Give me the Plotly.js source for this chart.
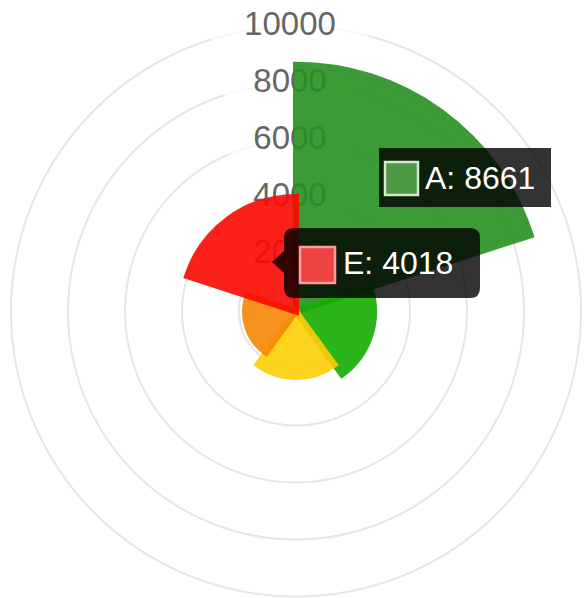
<!DOCTYPE html>
<html>
<head>
<meta charset="utf-8">
<script src="https://cdn.plot.ly/plotly-3.0.1.min.js"></script>
<style>
  html, body { margin: 0; padding: 0; background: #fff; }
  #chart { width: 585px; height: 598px; }
</style>
</head>
<body>
<div id="chart"></div>
<script>
// ---- data ----
const categories = ['A', 'B', 'C', 'D', 'E'];
const values = [8661, 2740, 2300, 1790, 4018];
const tickValues = [2000, 4000, 6000, 8000, 10000];
const tickLabels = ['2000', '4000', '6000', '8000', '10000'];
const tooltipIndices = [0, 4];

// ---- styles ----
const barColors = ['rgb(39,143,34)', 'rgb(21,173,3)', 'rgb(253,207,6)', 'rgb(246,135,5)', 'rgb(249,9,0)'];
const boxFill = ['#4c9a44', '#ee4343'];
const boxLine = ['#d3e9cd', '#ff9c9c'];

const W = 585, H = 598;
const CX = 296, CY = 311.5, R = 285;
const px = x => x / W;
const py = y => 1 - y / H;
function dom(r) {
  return { x: [px(CX - r), px(CX + r)], y: [py(CY + r), py(CY - r)] };
}
const RMAX = 10000, LABEL_RMAX = 10050;
const LABEL_DX = -6; // small pixel shift of tick labels to the left
const font = 'Liberation Sans, Arial, Helvetica, sans-serif';
const labelTheta = tickValues.map(v => Math.asin(LABEL_DX / (v * R / RMAX)) * 180 / Math.PI);

const traces = [
  {
    type: 'scatterpolar', subplot: 'polar',
    r: tickValues, theta: labelTheta,
    mode: 'markers',
    marker: { symbol: 'line-ew', size: tickLabels.map(t => t.length * 18.4 + 20),
              color: '#ffffff', line: { color: '#ffffff', width: 28 } },
    cliponaxis: false, hoverinfo: 'skip', showlegend: false
  },
  {
    type: 'scatterpolar', subplot: 'polar',
    r: tickValues, theta: labelTheta,
    mode: 'text', text: tickLabels, textposition: 'middle center',
    textfont: { size: 33, color: '#666666', family: font },
    cliponaxis: false, hoverinfo: 'skip', showlegend: false
  },
  {
    type: 'barpolar', subplot: 'polar2',
    r: values, theta: categories,
    marker: { color: barColors, opacity: 0.9, line: { color: barColors, width: 6 } },
    hoverinfo: 'skip', showlegend: false
  }
];

// ---- tooltips ----
const shapes = [];
const annotations = [];
function P(x, y) { return px(x).toFixed(5) + ',' + py(y).toFixed(5); }

const tA = { x0: 379, y0: 148, x1: 551, y1: 207, bx0: 385, by0: 162, bx1: 418, by1: 195, tx: 423, ty: 178 };
const tE = { x0: 284, y0: 228, x1: 480, y1: 298, r: 10, cx: 272, cy: 262, bx0: 300, by0: 247, bx1: 335, by1: 283, tx: 341, ty: 263 };

shapes.push({
  type: 'rect', xref: 'paper', yref: 'paper', layer: 'above',
  x0: px(tA.x0), x1: px(tA.x1), y0: py(tA.y1), y1: py(tA.y0),
  fillcolor: 'rgba(0,0,0,0.8)', line: { width: 0 }
});
{
  const { x0, y0, x1, y1, r, cx, cy } = tE;
  const path = 'M' + P(x0 + r, y0) + ' L' + P(x1 - r, y0) + ' Q' + P(x1, y0) + ' ' + P(x1, y0 + r) +
    ' L' + P(x1, y1 - r) + ' Q' + P(x1, y1) + ' ' + P(x1 - r, y1) +
    ' L' + P(x0 + r, y1) + ' Q' + P(x0, y1) + ' ' + P(x0, y1 - r) +
    ' L' + P(x0, cy + 11) + ' L' + P(cx, cy) + ' L' + P(x0, cy - 11) +
    ' L' + P(x0, y0 + r) + ' Q' + P(x0, y0) + ' ' + P(x0 + r, y0) + ' Z';
  shapes.push({ type: 'path', xref: 'paper', yref: 'paper', layer: 'above', path: path,
                fillcolor: 'rgba(0,0,0,0.8)', line: { width: 0 } });
}
[tA, tE].forEach((t, k) => {
  const i = tooltipIndices[k];
  shapes.push({
    type: 'rect', xref: 'paper', yref: 'paper', layer: 'above',
    x0: px(t.bx0), x1: px(t.bx1), y0: py(t.by1), y1: py(t.by0),
    fillcolor: boxFill[k], line: { color: boxLine[k], width: 2.5 }
  });
  annotations.push({
    xref: 'paper', yref: 'paper', x: px(t.tx), y: py(t.ty),
    xanchor: 'left', yanchor: 'middle', showarrow: false,
    text: categories[i] + ': ' + values[i],
    font: { size: 32, color: '#ffffff', family: font }
  });
});

const layout = {
  width: W, height: H,
  margin: { l: 0, r: 0, t: 0, b: 0 },
  paper_bgcolor: '#ffffff',
  showlegend: false,
  polar: {
    domain: dom(R * LABEL_RMAX / RMAX),
    bgcolor: '#ffffff',
    angularaxis: { rotation: 90, direction: 'clockwise', showgrid: false, showline: false,
                   showticklabels: false, ticks: '' },
    radialaxis: { range: [0, LABEL_RMAX], tickmode: 'linear', tick0: 0, dtick: 2000,
                  showline: false, showticklabels: false, ticks: '',
                  gridcolor: '#e6e6e6', gridwidth: 2 }
  },
  polar2: {
    domain: dom(R),
    bgcolor: 'rgba(0,0,0,0)',
    bargap: 0,
    angularaxis: { type: 'category', categoryorder: 'array', categoryarray: categories,
                   rotation: 54, direction: 'clockwise', visible: false },
    radialaxis: { range: [0, RMAX], visible: false }
  },
  shapes: shapes,
  annotations: annotations
};

Plotly.newPlot('chart', traces, layout, { displayModeBar: false, staticPlot: true });
</script>
</body>
</html>
